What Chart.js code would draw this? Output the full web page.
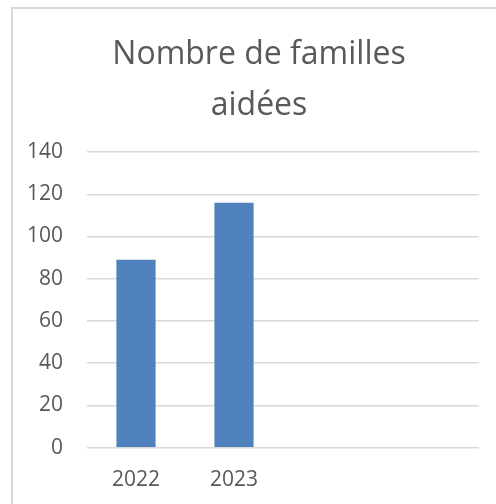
<!DOCTYPE html>
<html>
<head>
<meta charset="utf-8">
<script src="https://cdn.jsdelivr.net/npm/chart.js@4/dist/chart.umd.min.js"></script>
<style>
  html, body { margin: 0; padding: 0; background: #fff; overflow: hidden; }
  #frame { position: absolute; left: 11px; top: 7px; width: 700px; height: 700px; border-left: 2px solid #d9d9d9; border-top: 2px solid #d9d9d9; box-sizing: border-box; }
  #wrap { position: absolute; left: 0; top: 0; width: 496px; height: 504px; }
</style>
</head>
<body>
<div id="frame"></div>
<div id="wrap"><canvas id="c" width="496" height="504"></canvas></div>
<script>
const categories = ['2022', '2023', '', ''];
const familles = [89, 116, null, null];
const yTicks = [0, 20, 40, 60, 80, 100, 120, 140];
const titleLines = ['Nombre de familles', 'aidées'];

const textColor = '#595959';
const fontFamily = '"Open Sans", "Liberation Sans", sans-serif';

// The title is centred on the whole chart frame (which starts at x=11 and runs past the window).
const titleShift = {
  id: 'titleShift',
  afterLayout(chart) {
    if (chart.titleBlock) {
      chart.titleBlock.left = 39;
      chart.titleBlock.width = chart.titleBlock.right - 39;
    }
  }
};

new Chart(document.getElementById('c'), {
  type: 'bar',
  data: {
    labels: categories,
    datasets: [{
      label: titleLines.join(' '),
      data: familles,
      backgroundColor: '#4F81BD',
      borderWidth: 0,
      barPercentage: 0.40,
      categoryPercentage: 1.0
    }]
  },
  plugins: [titleShift],
  options: {
    responsive: false,
    animation: false,
    devicePixelRatio: 1,
    layout: { padding: { left: 0, right: 17, top: 0, bottom: 13 } },
    plugins: {
      legend: { display: false },
      tooltip: { enabled: false },
      title: {
        display: true,
        text: titleLines,
        color: textColor,
        font: { family: fontFamily, size: 32, weight: 'normal', lineHeight: 1.594 },
        padding: { top: 29, bottom: 21 }
      }
    },
    scales: {
      x: {
        grid: { display: false, drawTicks: false },
        border: { display: false },
        afterFit: (scale) => { scale.height = 43.3; },
        ticks: {
          color: textColor,
          padding: 20,
          font: { family: fontFamily, size: 21 },
          maxRotation: 0,
          autoSkip: false
        }
      },
      y: {
        min: yTicks[0],
        max: yTicks[yTicks.length - 1],
        afterBuildTicks: (scale) => { scale.ticks = yTicks.map(v => ({ value: v })); },
        afterFit: (scale) => { scale.width = 87; },
        grid: { color: '#d9d9d9', lineWidth: 1.5, drawTicks: false },
        border: { display: false },
        ticks: {
          color: textColor,
          padding: 24,
          font: { family: fontFamily, size: 21 }
        }
      }
    }
  }
});
</script>
</body>
</html>
